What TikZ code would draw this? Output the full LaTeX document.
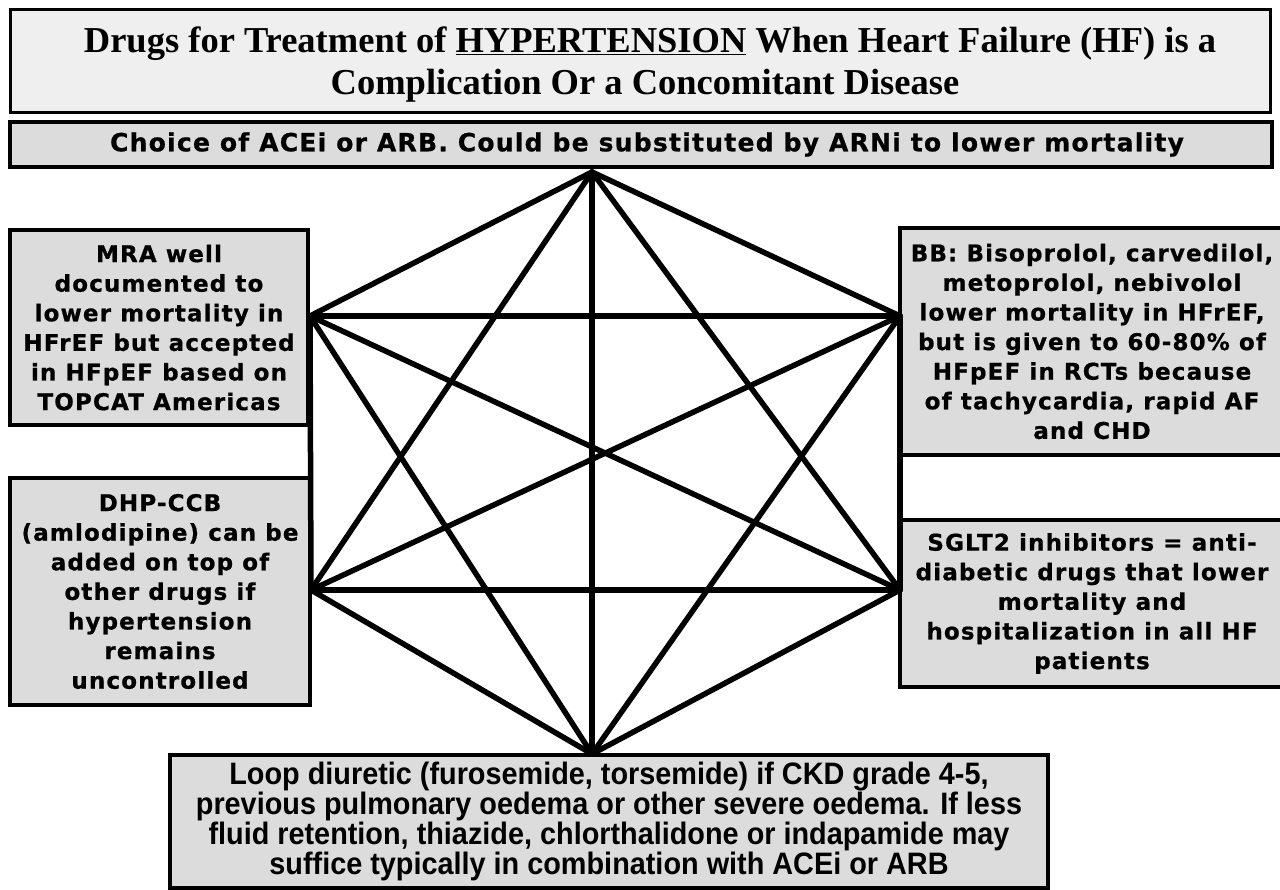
\documentclass[tikz,border=0pt]{standalone}
\usepackage{fontspec}
\setmainfont{Liberation Serif}
\newfontfamily\heavyfont[LetterSpace=5, FakeBold=0.8]{DejaVu Sans}
\newfontfamily\narrowfont[FakeStretch=0.93]{Liberation Sans}
\usepackage{tikz}
\usepackage{xcolor}
\definecolor{titlegray}{HTML}{EFEFEF}
\definecolor{boxgray}{HTML}{DCDCDC}
\tikzset{
  titlebox/.style={draw=black, line width=3pt, fill=titlegray, align=center, inner sep=0pt,
    font=\bfseries\fontsize{36.5}{42}\selectfont, text height=66pt, text depth=0pt},
  drugbox/.style={draw=black, line width=3.5pt, fill=boxgray, align=center, inner sep=0pt,
    font=\heavyfont\bfseries\fontsize{23}{29.6}\selectfont},
  loopbox/.style={drugbox, font=\narrowfont\bfseries\fontsize{31}{30}\selectfont},
  link/.style={line width=5.5pt, draw=black, line cap=round},
}

\begin{document}
\begin{tikzpicture}[x=1pt, y=-1pt]
  \useasboundingbox (0,0) rectangle (1280,890);
  % Kopf
  \node[titlebox, minimum width=1260, minimum height=103] (title) at (640,61.5)
    {\hspace*{20pt}Drugs for Treatment of \underline{HYPERTENSION} When Heart Failure (HF) is a\\
     \hspace*{10pt}Complication Or a Concomitant Disease};
  \node[drugbox, line width=4pt, minimum width=1262, minimum height=45,
    font=\heavyfont\bfseries\fontsize{25}{29.6}\selectfont] (choice) at (641,144.5)
    {\hspace*{12pt}Choice of ACEi or ARB. Could be substituted by ARNi to lower mortality};
  % Seitenkaesten
  \node[drugbox, minimum width=298, minimum height=195] (mra) at (159,327.5)
    {MRA well\\ documented to\\ lower mortality in\\ HFrEF but accepted\\
     in HFpEF based on\\ TOPCAT Americas};
  \node[drugbox, minimum width=300, minimum height=227] (dhp) at (160,591.5)
    {DHP-CCB\\ (amlodipine) can be\\ added on top of\\ other drugs if\\
     hypertension\\ remains\\ uncontrolled};
  \node[drugbox, minimum width=384, minimum height=227] (bb) at (1092,341.5)
    {BB: Bisoprolol, carvedilol,\\ metoprolol, nebivolol\\ lower mortality in HFrEF,\\
     but is given to 60-80\% of\\ HFpEF in RCTs because\\ of tachycardia, rapid AF\\ and CHD};
  \node[drugbox, minimum width=384, minimum height=167] (sglt) at (1092,603.5)
    {SGLT2 inhibitors = anti-\\ diabetic drugs that lower\\ mortality and\\
     hospitalization in all HF\\ patients};
  \node[loopbox, minimum width=878, minimum height=133] (loop) at (609,821.5)
    {Loop diuretic (furosemide, torsemide) if CKD grade 4-5,\\
     previous pulmonary oedema or other severe oedema. If less\\
     fluid retention, thiazide, chlorthalidone or indapamide may\\
     suffice typically in combination with ACEi or ARB};
  % Hexagramm
  \coordinate (vT) at (592,172);
  \coordinate (vRU) at (900,316);
  \coordinate (vRL) at (900,590);
  \coordinate (vB) at (592,754);
  \coordinate (vLL) at (311,590);
  \coordinate (vLU) at (310,316);
  \foreach \a/\b in {vT/vRU, vT/vRL, vT/vB, vT/vLL, vT/vLU,
                     vRU/vRL, vRU/vB, vRU/vLL, vRU/vLU,
                     vRL/vB, vRL/vLL, vRL/vLU,
                     vB/vLL, vB/vLU, vLL/vLU}
    \draw[link] (\a) -- (\b);
\end{tikzpicture}
\end{document}
